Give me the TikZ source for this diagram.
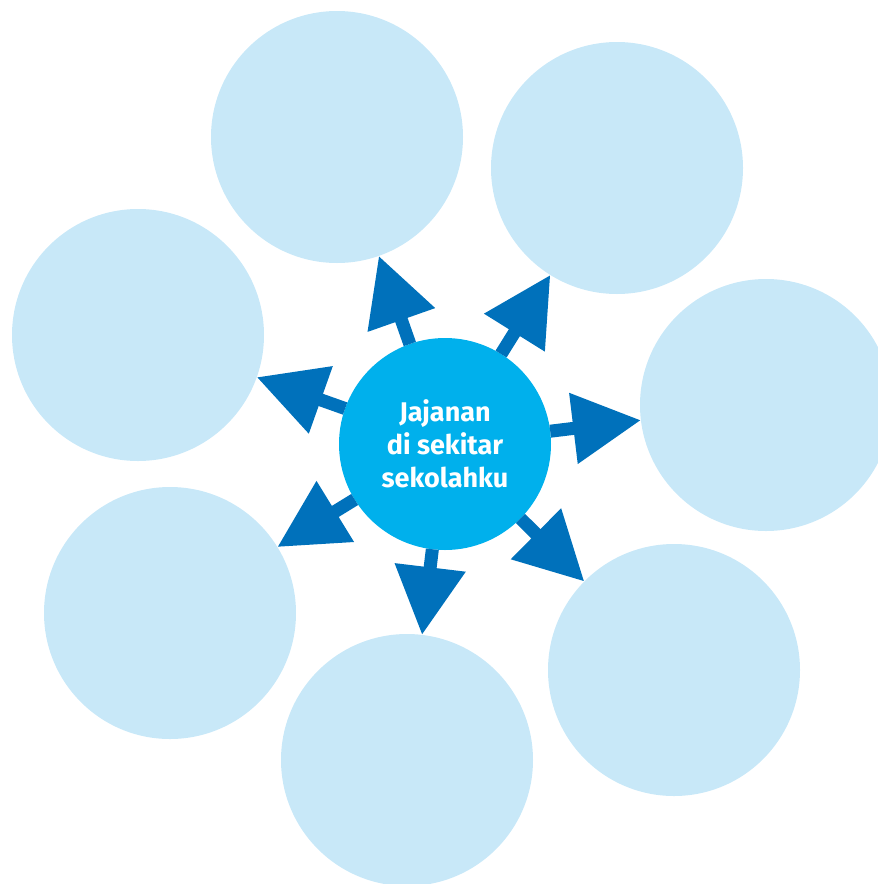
\documentclass[tikz,border=0pt]{standalone}
\usepackage{fontspec}
\setmainfont{Fira Sans}
\usetikzlibrary{arrows.meta}
\definecolor{outerblue}{HTML}{C8E8F8}
\definecolor{centerblue}{HTML}{00B0EC}
\definecolor{arrowblue}{HTML}{0071BB}
\tikzset{
  outerc/.style={circle, fill=outerblue, minimum size=252pt, inner sep=0pt, outer sep=0pt},
  centerc/.style={circle, fill=centerblue, minimum size=212pt, inner sep=0pt, outer sep=0pt,
    text=white, align=center, font=\fontsize{27}{33}\selectfont\bfseries},
  arr/.style={draw=arrowblue, line width=13pt, -{Triangle[length=68pt, width=68pt]}, fill=arrowblue}
}
\begin{document}
\begin{tikzpicture}[x=1pt, y=-1pt]
\useasboundingbox (0,0) rectangle (878,884);
\node[outerc] (o1) at (337,137) {};
\node[outerc] (o2) at (617,168) {};
\node[outerc] (o3) at (766,405) {};
\node[outerc] (o4) at (674,670) {};
\node[outerc] (o5) at (407,760) {};
\node[outerc] (o6) at (170,613) {};
\node[outerc] (o7) at (138,335) {};
\node[centerc] (c) at (445,444) {Jajanan\\di sekitar\\sekolahku};
\foreach \o in {o1,o2,o3,o4,o5,o6,o7}
  \draw[arr] (c) -- (\o);
\end{tikzpicture}
\end{document}
